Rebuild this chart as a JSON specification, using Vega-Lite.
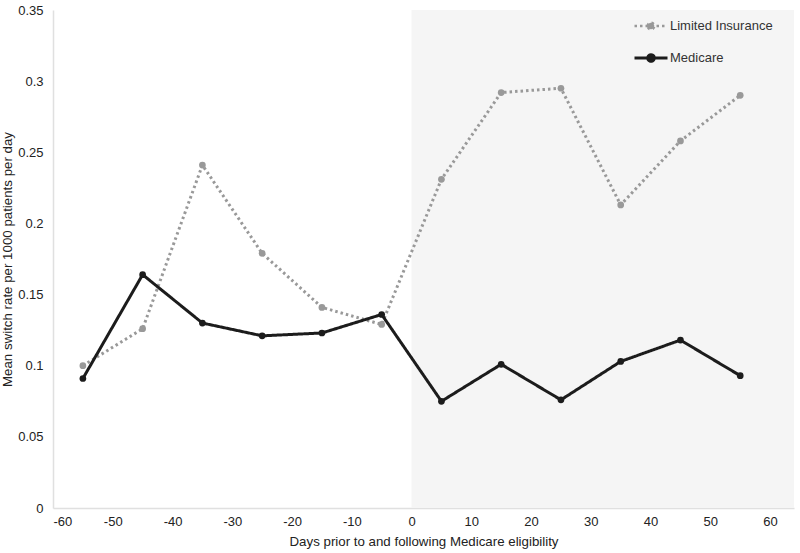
{
  "$schema": "https://vega.github.io/schema/vega-lite/v6.json",
  "width": 741,
  "height": 498,
  "autosize": "none",
  "padding": {"left": 53, "top": 10, "right": 6, "bottom": 45},
  "background": "white",
  "config": {
    "view": {"stroke": null},
    "font": "Liberation Sans",
    "axis": {"labelFont": "Liberation Sans", "titleFont": "Liberation Sans", "labelFontSize": 13, "titleFontSize": 13.3, "labelColor": "#222", "titleColor": "#222", "titleFontWeight": "normal", "grid": false, "domainColor": "#e0e0e0", "domainWidth": 1.5, "ticks": false}
  },
  "datasets": {
    "series": [
      {"day": -55, "rate": 0.100, "group": "Limited Insurance"},
      {"day": -45, "rate": 0.126, "group": "Limited Insurance"},
      {"day": -35, "rate": 0.241, "group": "Limited Insurance"},
      {"day": -25, "rate": 0.179, "group": "Limited Insurance"},
      {"day": -15, "rate": 0.141, "group": "Limited Insurance"},
      {"day": -5, "rate": 0.129, "group": "Limited Insurance"},
      {"day": 5, "rate": 0.231, "group": "Limited Insurance"},
      {"day": 15, "rate": 0.292, "group": "Limited Insurance"},
      {"day": 25, "rate": 0.295, "group": "Limited Insurance"},
      {"day": 35, "rate": 0.213, "group": "Limited Insurance"},
      {"day": 45, "rate": 0.258, "group": "Limited Insurance"},
      {"day": 55, "rate": 0.290, "group": "Limited Insurance"},
      {"day": -55, "rate": 0.091, "group": "Medicare"},
      {"day": -45, "rate": 0.164, "group": "Medicare"},
      {"day": -35, "rate": 0.130, "group": "Medicare"},
      {"day": -25, "rate": 0.121, "group": "Medicare"},
      {"day": -15, "rate": 0.123, "group": "Medicare"},
      {"day": -5, "rate": 0.136, "group": "Medicare"},
      {"day": 5, "rate": 0.075, "group": "Medicare"},
      {"day": 15, "rate": 0.101, "group": "Medicare"},
      {"day": 25, "rate": 0.076, "group": "Medicare"},
      {"day": 35, "rate": 0.103, "group": "Medicare"},
      {"day": 45, "rate": 0.118, "group": "Medicare"},
      {"day": 55, "rate": 0.093, "group": "Medicare"}
    ],
    "shade": [{"start": 0, "end": 64}]
  },
  "layer": [
    {
      "data": {"name": "shade"},
      "mark": {"type": "rect", "color": "#f5f5f5"},
      "encoding": {
        "x": {"field": "start", "type": "quantitative", "scale": {"domain": [-60, 64], "nice": false, "zero": false}},
        "x2": {"field": "end"},
        "y": {"datum": 0, "type": "quantitative"},
        "y2": {"datum": 0.35}
      }
    },
    {
      "data": {"name": "series"},
      "mark": {"type": "line", "point": {"filled": true, "size": 45}, "strokeWidth": 3},
      "encoding": {
        "x": {"field": "day", "type": "quantitative", "title": "Days prior to and following Medicare eligibility",
              "scale": {"domain": [-60, 64], "nice": false, "zero": false},
              "axis": {"values": [-60, -50, -40, -30, -20, -10, 0, 10, 20, 30, 40, 50, 60], "labelExpr": "'' + datum.value", "labelPadding": 7, "titlePadding": 6}},
        "y": {"field": "rate", "type": "quantitative", "title": "Mean switch rate per 1000 patients per day",
              "scale": {"domain": [0, 0.35], "nice": false},
              "axis": {"values": [0, 0.05, 0.1, 0.15, 0.2, 0.25, 0.3, 0.35], "labelExpr": "'' + datum.value", "labelPadding": 10, "titlePadding": 3}},
        "color": {"field": "group", "type": "nominal", "scale": {"domain": ["Limited Insurance", "Medicare"], "range": ["#999999", "#1c1c1c"]},
                  "legend": {"title": null, "orient": "none", "legendX": 580, "legendY": -2, "labelFontSize": 13, "labelColor": "#333", "labelFont": "Liberation Sans",
                             "symbolType": "M-1,0L1,0M-0.2,0A0.2,0.2,0,1,1,0.2,0A0.2,0.2,0,1,1,-0.2,0Z",
                             "symbolStrokeWidth": 2.5, "symbolSize": 1089, "rowPadding": 5, "labelOffset": 1,
                             "encode": {"symbols": {"update": {"fill": {"scale": "color", "field": "value"}}}}}},
        "strokeDash": {"field": "group", "type": "nominal", "scale": {"domain": ["Limited Insurance", "Medicare"], "range": [[2.5, 3], [1, 0]]}},
        "strokeWidth": {"field": "group", "type": "nominal", "scale": {"domain": ["Limited Insurance", "Medicare"], "range": [2.5, 3]}, "legend": null}
      }
    }
  ]
}
